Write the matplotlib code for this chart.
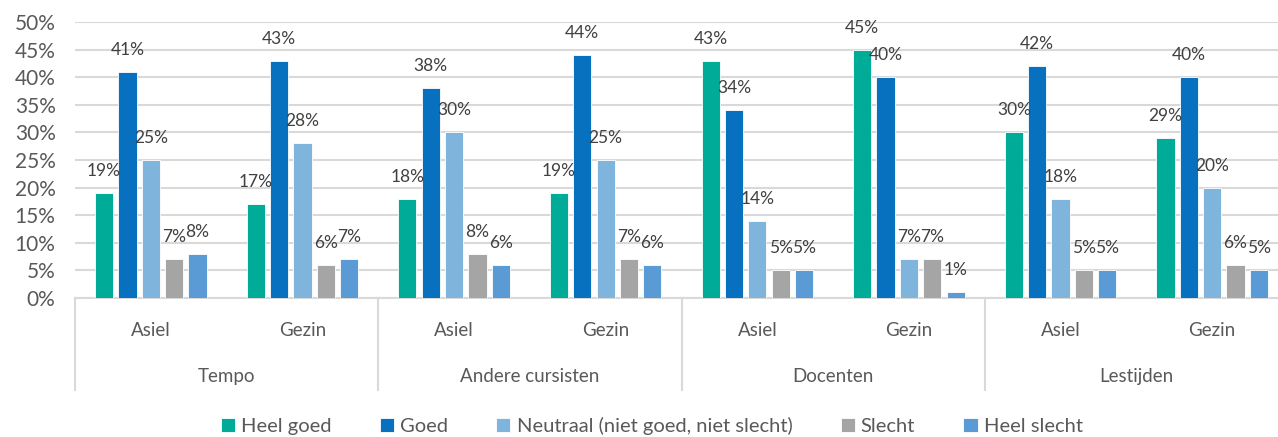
import numpy as np
import matplotlib.pyplot as plt

plt.rcParams['font.family'] = ['Lato', 'DejaVu Sans']

# data
topics = ['Tempo', 'Andere cursisten', 'Docenten', 'Lestijden']
groups = ['Asiel', 'Gezin']
series = ['Heel goed', 'Goed', 'Neutraal (niet goed, niet slecht)', 'Slecht', 'Heel slecht']
heel_goed = [19, 17, 18, 19, 43, 45, 30, 29]
goed = [41, 43, 38, 44, 34, 40, 42, 40]
neutraal = [25, 28, 30, 25, 14, 7, 18, 20]
slecht = [7, 6, 8, 7, 5, 7, 5, 6]
heel_slecht = [8, 7, 6, 6, 5, 1, 5, 5]
colors = ['#00AC97', '#0770BF', '#7FB4DD', '#A5A5A5', '#5B9BD5']

values = [heel_goed, goed, neutraal, slecht, heel_slecht]

fig = plt.figure(figsize=(12.78, 4.37), dpi=100)
ax = fig.add_axes([75 / 1278, 1 - 298 / 437, 1213 / 1278, 276 / 437])

x = np.arange(len(heel_goed))
step = 0.154
width = 0.12
for i, (name, vals, c) in enumerate(zip(series, values, colors)):
    pos = x + (i - 2) * step
    ax.bar(pos, vals, width, color=c, label=name, edgecolor='white', linewidth=0.6, zorder=3)
    for p, v in zip(pos, vals):
        ax.text(p, v + 4.0, f'{v}%', ha='center', va='center', fontsize=12.5,
                color='#404040', zorder=4)

ax.set_xlim(-0.5, 7.5)
ax.set_ylim(0, 50)
ax.set_yticks(range(0, 51, 5))
ax.set_yticklabels([f'{t}%' for t in range(0, 51, 5)], fontsize=15, color='#595959')
ax.yaxis.grid(True, color='#D9D9D9', linewidth=1.5, zorder=0)
ax.tick_params(axis='y', length=0, pad=14)
ax.set_xticks([])
for s in ['top', 'right', 'left']:
    ax.spines[s].set_visible(False)
ax.spines['bottom'].set_color('#D9D9D9')
ax.spines['bottom'].set_linewidth(1.5)

# multi-level category axis
trans = ax.get_xaxis_transform()
for b in [-0.5, 1.5, 3.5, 5.5, 7.5]:
    ax.plot([b, b], [0, -0.333], transform=trans, color='#D9D9D9', lw=1.5, clip_on=False)
for xi in x:
    ax.text(xi, -0.116, groups[xi % 2], transform=trans, ha='center', va='center',
            fontsize=13.5, color='#595959')
for k, t in enumerate(topics):
    ax.text(2 * k + 0.5, -0.286, t, transform=trans, ha='center', va='center',
            fontsize=13.5, color='#595959')

leg = fig.legend(loc='center', bbox_to_anchor=(0.51, 0.025), ncol=5, frameon=False,
                 fontsize=14.5, handlelength=0.7, handleheight=0.7, handletextpad=0.3,
                 columnspacing=2.4)
for t in leg.get_texts():
    t.set_color('#595959')

fig.savefig('out.png', dpi=100)
